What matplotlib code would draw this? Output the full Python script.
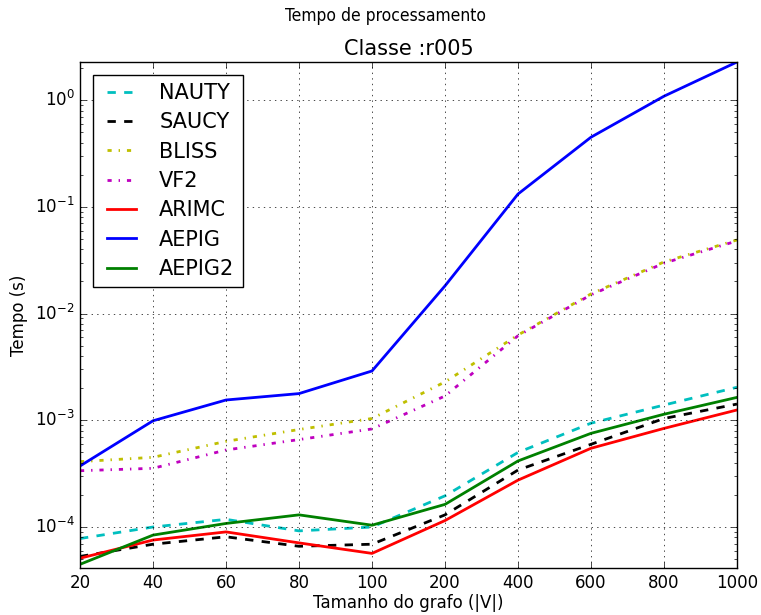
import matplotlib
matplotlib.use('Agg')
import matplotlib.pyplot as plt

plt.style.use('classic')
plt.rcParams['font.family'] = ['DejaVu Sans']

tamanhos = ['20', '40', '60', '80', '100', '200', '400', '600', '800', '1000']

nauty = [7.8e-5, 1.0e-4, 1.18e-4, 9.2e-5, 1.0e-4, 1.96e-4, 5.0e-4, 9.4e-4, 1.39e-3, 2.04e-3]
saucy = [5.3e-5, 6.9e-5, 8.1e-5, 6.6e-5, 6.9e-5, 1.3e-4, 3.42e-4, 5.96e-4, 1.04e-3, 1.42e-3]
bliss = [4.1e-4, 4.5e-4, 6.35e-4, 8.2e-4, 1.04e-3, 2.29e-3, 6.3e-3, 1.53e-2, 3.05e-2, 4.9e-2]
vf2 = [3.37e-4, 3.55e-4, 5.27e-4, 6.6e-4, 8.3e-4, 1.69e-3, 6.2e-3, 1.5e-2, 2.97e-2, 4.8e-2]
arimc = [5.1e-5, 7.55e-5, 9.0e-5, 7.1e-5, 5.66e-5, 1.15e-4, 2.75e-4, 5.47e-4, 8.4e-4, 1.25e-3]
aepig = [3.73e-4, 9.9e-4, 1.55e-3, 1.78e-3, 2.9e-3, 1.82e-2, 0.132, 0.45, 1.09, 2.28]
aepig2 = [4.47e-5, 8.4e-5, 1.08e-4, 1.3e-4, 1.04e-4, 1.63e-4, 4.16e-4, 7.55e-4, 1.14e-3, 1.64e-3]

series = [
    ('NAUTY', nauty, 'c--'),
    ('SAUCY', saucy, 'k--'),
    ('BLISS', bliss, 'y-.'),
    ('VF2', vf2, 'm-.'),
    ('ARIMC', arimc, 'r-'),
    ('AEPIG', aepig, 'b-'),
    ('AEPIG2', aepig2, 'g-'),
]

fig = plt.figure(figsize=(7.61, 6.15), dpi=100, facecolor='white')
ax = fig.add_axes([80 / 761, 1 - 568 / 615, 657 / 761, 506 / 615])

x = list(range(len(tamanhos)))
for nome, valores, estilo in series:
    ax.plot(x, valores, estilo, linewidth=2, label=nome)

ax.set_yscale('log')
ax.set_xlim(0, len(tamanhos) - 1)
ax.set_ylim(4.13e-5, 2.28)
ax.set_xticks(x)
ax.set_xticklabels(tamanhos)
ax.grid(True, which='major', linestyle=':', color='black')
ax.set_xlabel('Tamanho do grafo (|V|)', fontsize=12, labelpad=2)
ax.set_ylabel('Tempo (s)', fontsize=12)
ax.set_title('Classe :r005', fontsize=15, pad=5)
# titulo geral, fonte condensada como no original
fig.suptitle('Tempo de processamento', fontsize=12.5, x=0.507, y=0.988,
             fontstretch='condensed')

ax.legend(loc='upper left', fontsize=15, handlelength=2.0, borderaxespad=0.6,
          labelspacing=0.45)

fig.savefig('out.png', dpi=100, facecolor='white')
